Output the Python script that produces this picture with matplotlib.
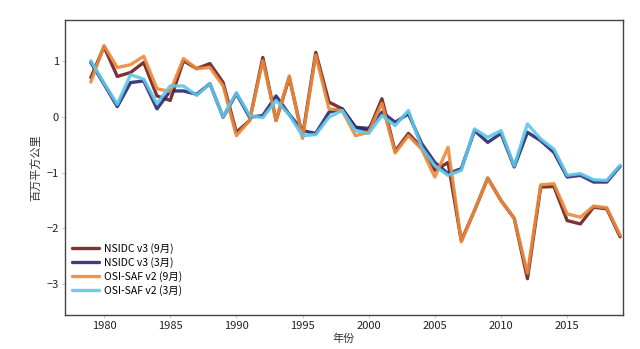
import numpy as np
import matplotlib
matplotlib.use('Agg')
import matplotlib.pyplot as plt

plt.rcParams['font.family'] = ['Noto Sans CJK SC', 'DejaVu Sans']

years = np.arange(1979, 2020)

# sea ice extent anomalies (million km2)
nsidc_sep = [0.70, 1.25, 0.72, 0.79, 0.97, 0.37, 0.29, 1.00, 0.86, 0.95,
             0.61, -0.28, -0.07, 1.06, -0.07, 0.70, -0.35, 1.15, 0.26, 0.14,
             -0.19, -0.25, 0.32, -0.62, -0.30, -0.55, -0.96, -0.82, -2.22, -1.68,
             -1.10, -1.50, -1.82, -2.90, -1.26, -1.25, -1.86, -1.92, -1.62, -1.65,
             -2.15]
nsidc_mar = [0.97, 0.58, 0.18, 0.61, 0.64, 0.14, 0.46, 0.46, 0.40, 0.59,
             -0.01, 0.41, -0.01, 0.02, 0.37, 0.04, -0.25, -0.30, 0.08, 0.14,
             -0.19, -0.21, 0.08, -0.10, 0.05, -0.48, -0.82, -1.02, -0.93, -0.25,
             -0.46, -0.30, -0.90, -0.28, -0.43, -0.64, -1.08, -1.05, -1.17, -1.17,
             -0.89]
osi_sep = [0.62, 1.27, 0.88, 0.93, 1.08, 0.50, 0.45, 1.04, 0.86, 0.88,
           0.55, -0.34, -0.07, 1.00, -0.07, 0.73, -0.39, 1.10, 0.14, 0.11,
           -0.34, -0.28, 0.24, -0.65, -0.34, -0.58, -1.08, -0.55, -2.24, -1.68,
           -1.10, -1.50, -1.82, -2.80, -1.22, -1.20, -1.74, -1.80, -1.60, -1.63,
           -2.12]
osi_mar = [1.00, 0.60, 0.22, 0.75, 0.67, 0.23, 0.55, 0.55, 0.38, 0.59,
           0.00, 0.43, 0.02, -0.02, 0.29, 0.03, -0.34, -0.32, -0.01, 0.11,
           -0.25, -0.30, 0.02, -0.16, 0.11, -0.55, -0.88, -1.05, -0.96, -0.22,
           -0.37, -0.25, -0.88, -0.13, -0.40, -0.58, -1.05, -1.02, -1.13, -1.14,
           -0.87]

labels = ['NSIDC v3 (9月)', 'NSIDC v3 (3月)', 'OSI-SAF v2 (9月)', 'OSI-SAF v2 (3月)']
colors = ['#6e1f1c', '#28286e', '#ec8a3c', '#5ec6ea']

fig = plt.figure(figsize=(6.4, 3.49), dpi=100)
ax = fig.add_axes([0.1016, 0.0974, 0.8714, 0.8453])

series = [nsidc_sep, nsidc_mar, osi_sep, osi_mar]
for s, c, lab in zip(series, colors, labels):
    ax.plot(years, s, color=c, lw=2.4, alpha=0.9, label=lab,
            solid_joinstyle='round', solid_capstyle='round')

ax.set_xlim(1977.05, 2019.2)
ax.set_ylim(-3.55, 1.73)
ax.set_xticks([1980, 1985, 1990, 1995, 2000, 2005, 2010, 2015])
ax.set_yticks([1, 0, -1, -2, -3])
ax.set_yticklabels(['1', '0', '\u22121', '\u22122', '\u22123'])

for sp in ax.spines.values():
    sp.set_color('#444444')
    sp.set_linewidth(1.0)
ax.tick_params(length=2.5, width=0.6, color='#bbbbbb', labelsize=8,
               labelcolor='#222222', pad=2)

ax.set_xlabel('年份', fontsize=8, color='#333333', labelpad=2)
ax.set_ylabel('百万平方公里', fontsize=8, color='#333333', labelpad=4)

leg = ax.legend(loc='lower left', bbox_to_anchor=(0.0, 0.04), frameon=False,
                fontsize=7.5, handlelength=2.6, labelspacing=0.3,
                handletextpad=0.4, borderaxespad=0.3)

fig.savefig('out.png', dpi=100)
